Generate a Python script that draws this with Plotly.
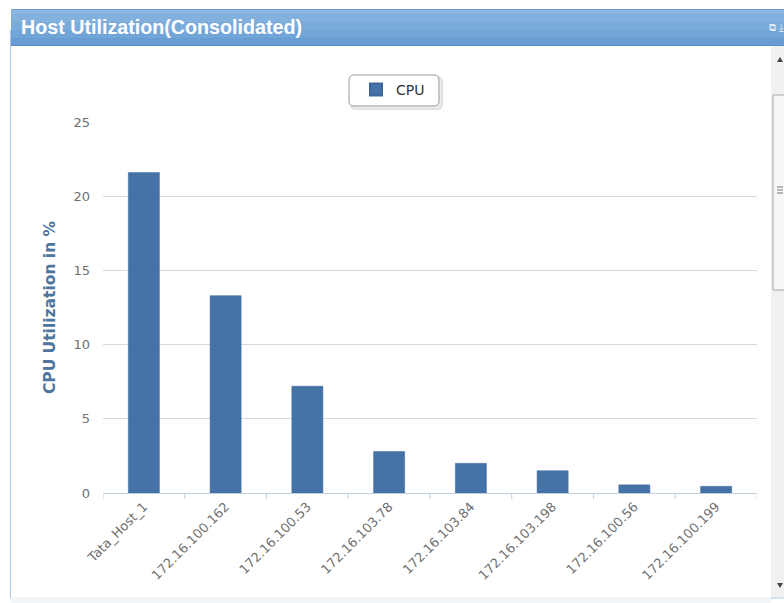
import plotly.graph_objects as go

# CPU utilisation per host
hosts = ["Tata_Host_1", "172.16.100.162", "172.16.100.53", "172.16.103.78",
         "172.16.103.84", "172.16.103.198", "172.16.100.56", "172.16.100.199"]
cpu = [21.6, 13.3, 7.2, 2.8, 2.0, 1.5, 0.55, 0.45]
y_ticks = [0, 5, 10, 15, 20, 25]

W, H = 784, 603
L, R, T, B = 103, 757, 122, 493  # plot area in pixels


def px(x):
    return (x - L) / (R - L)


def py(y):
    return (B - y) / (B - T)


def rounded_rect(x0, y0, x1, y1, r):
    """SVG path for a rounded rectangle given in pixel coordinates."""
    pts = [
        f"M {px(x0 + r)},{py(y0)}", f"L {px(x1 - r)},{py(y0)}",
        f"Q {px(x1)},{py(y0)} {px(x1)},{py(y0 + r)}", f"L {px(x1)},{py(y1 - r)}",
        f"Q {px(x1)},{py(y1)} {px(x1 - r)},{py(y1)}", f"L {px(x0 + r)},{py(y1)}",
        f"Q {px(x0)},{py(y1)} {px(x0)},{py(y1 - r)}", f"L {px(x0)},{py(y0 + r)}",
        f"Q {px(x0)},{py(y0)} {px(x0 + r)},{py(y0)} Z",
    ]
    return " ".join(pts)


fig = go.Figure()
fig.add_trace(go.Bar(
    x=hosts, y=cpu, name="CPU",
    marker=dict(color="#4572A7", line=dict(color="#3f679a", width=0.5)),
    width=0.38,
))

shapes = []
# panel frame
shapes.append(dict(type="rect", xref="paper", yref="paper",
                   x0=px(10.5), x1=px(790), y0=py(598), y1=py(30),
                   line=dict(color="#a9c8e6", width=1), fillcolor="rgba(0,0,0,0)", layer="below"))
# header bar (stacked bands for a soft gradient)
bands = [("#8ab6e0", 9, 14), ("#82b1de", 14, 22), ("#7aabdb", 22, 30),
         ("#71a4d7", 30, 38), ("#689dd3", 38, 45)]
for c, y0, y1 in bands:
    shapes.append(dict(type="rect", xref="paper", yref="paper",
                       x0=px(11), x1=px(790), y0=py(y1), y1=py(y0),
                       line=dict(width=0), fillcolor=c, layer="below"))
shapes.append(dict(type="line", xref="paper", yref="paper",
                   x0=px(11), x1=px(790), y0=py(45.5), y1=py(45.5),
                   line=dict(color="#5a8fc6", width=1)))
shapes.append(dict(type="line", xref="paper", yref="paper",
                   x0=px(12), x1=px(790), y0=py(9.5), y1=py(9.5),
                   line=dict(color="#6b9fd3", width=1)))
# scrollbar
shapes.append(dict(type="rect", xref="paper", yref="paper",
                   x0=px(771), x1=px(790), y0=py(597), y1=py(46),
                   line=dict(width=0), fillcolor="#f1f1f1", layer="below"))
shapes.append(dict(type="rect", xref="paper", yref="paper",
                   x0=px(773), x1=px(790), y0=py(290), y1=py(95),
                   line=dict(color="#a8a8a8", width=1), fillcolor="#f7f7f7", layer="below"))
for yy in (187, 190, 193):
    shapes.append(dict(type="line", xref="paper", yref="paper",
                       x0=px(777), x1=px(783), y0=py(yy), y1=py(yy),
                       line=dict(color="#777777", width=1)))
shapes.append(dict(type="path", xref="paper", yref="paper",
                   path=f"M {px(777)},{py(62)} L {px(783)},{py(62)} L {px(780)},{py(57)} Z",
                   fillcolor="#444444", line=dict(width=0)))
shapes.append(dict(type="path", xref="paper", yref="paper",
                   path=f"M {px(777)},{py(583)} L {px(783)},{py(583)} L {px(780)},{py(588)} Z",
                   fillcolor="#444444", line=dict(width=0)))
# bottom strip
shapes.append(dict(type="rect", xref="paper", yref="paper",
                   x0=px(11), x1=px(771), y0=py(603), y1=py(597),
                   line=dict(width=0), fillcolor="#f3f6f9", layer="below"))
# legend box: soft shadow then rounded frame
shapes.append(dict(type="path", xref="paper", yref="paper",
                   path=rounded_rect(351, 77, 442, 109, 5),
                   line=dict(color="#e2e2e2", width=2), fillcolor="#eeeeee", layer="below"))
shapes.append(dict(type="path", xref="paper", yref="paper",
                   path=rounded_rect(349, 75, 439, 106, 5),
                   line=dict(color="#9a9a9a", width=1), fillcolor="white", layer="below"))

annotations = [
    dict(text="<b>Host Utilization(Consolidated)</b>", xref="paper", yref="paper",
         x=px(19), y=py(27), xanchor="left", yanchor="middle", showarrow=False,
         font=dict(family="Liberation Sans, Arial", size=19.7, color="white")),
    dict(text="⧉ ⤓", xref="paper", yref="paper",
         x=px(786), y=py(27), xanchor="right", yanchor="middle", showarrow=False,
         font=dict(family="DejaVu Sans", size=10, color="#e8f1fa")),
]

fig.update_layout(
    width=W, height=H,
    margin=dict(l=L, r=W - R, t=T, b=H - B, pad=0),
    paper_bgcolor="white", plot_bgcolor="white",
    bargap=0.62,
    showlegend=True,
    legend=dict(x=px(393), y=py(90), xanchor="center", yanchor="middle",
                orientation="h", bgcolor="rgba(0,0,0,0)", borderwidth=0,
                font=dict(family="DejaVu Sans", size=14, color="#333333"),
                itemsizing="constant", itemwidth=30),
    font=dict(family="DejaVu Sans", color="#666666"),
    xaxis=dict(
        type="category", tickangle=-45, showgrid=False,
        showline=True, linecolor="#c0d0e0", linewidth=1,
        ticks="", tickfont=dict(size=13, color="#707070"),
        range=[-0.5, len(hosts) - 0.5],
    ),
    yaxis=dict(
        range=[0, 25], tickvals=y_ticks, showgrid=True, gridcolor="#d8d8d8",
        gridwidth=1, zeroline=False, showline=False, ticks="",
        tickfont=dict(size=13, color="#707070"), ticklabelstandoff=12,
        title=dict(text="<b>CPU Utilization in %</b>", standoff=14,
                   font=dict(family="DejaVu Sans", size=15.5, color="#4d759e")),
    ),
    shapes=shapes,
    annotations=annotations,
)

# category separators below the axis line
for k in range(len(hosts) + 1):
    fig.add_shape(type="line", xref="x", yref="paper",
                  x0=k - 0.5, x1=k - 0.5, y0=0, y1=py(499),
                  line=dict(color="#c0d0e0", width=1))

fig.write_html("out.html")
